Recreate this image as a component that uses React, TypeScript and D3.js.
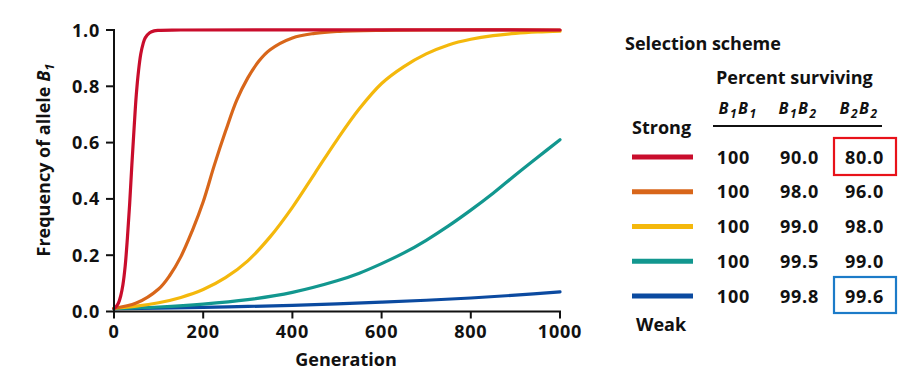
import React from "react";
import * as d3 from "d3";

// ---------- data ----------
const xTicks = [0, 200, 400, 600, 800, 1000];
const yTicks = [0, 0.2, 0.4, 0.6, 0.8, 1.0];

const redGen = [0, 5, 10, 15, 20, 25, 30, 35, 40, 45, 50, 55, 60, 65, 70, 80, 90, 100, 150, 1000];
const redFreq = [0.01, 0.018, 0.03, 0.055, 0.095, 0.16, 0.26, 0.38, 0.52, 0.65, 0.77, 0.855, 0.915, 0.95, 0.972, 0.99, 0.997, 0.999, 1, 1];

const orangeGen = [0, 50, 100, 125, 150, 175, 200, 225, 250, 275, 300, 325, 350, 400, 450, 500, 600, 700, 1000];
const orangeFreq = [0.012, 0.03, 0.08, 0.128, 0.195, 0.285, 0.39, 0.52, 0.64, 0.75, 0.83, 0.89, 0.93, 0.972, 0.988, 0.995, 0.999, 1, 1];

const yellowGen = [0, 50, 100, 150, 200, 250, 300, 350, 400, 450, 500, 550, 600, 650, 700, 750, 800, 850, 900, 950, 1000];
const yellowFreq = [0.012, 0.019, 0.031, 0.05, 0.078, 0.12, 0.18, 0.265, 0.37, 0.49, 0.61, 0.72, 0.81, 0.87, 0.915, 0.947, 0.967, 0.98, 0.988, 0.993, 0.996];

const tealGen = [0, 100, 200, 300, 400, 500, 550, 600, 650, 700, 750, 800, 850, 900, 950, 1000];
const tealFreq = [0.01, 0.016, 0.026, 0.042, 0.068, 0.109, 0.136, 0.17, 0.208, 0.253, 0.304, 0.36, 0.42, 0.485, 0.548, 0.61];

const blueGen = [0, 100, 200, 300, 400, 500, 600, 700, 800, 900, 1000];
const blueFreq = [0.01, 0.012, 0.015, 0.018, 0.022, 0.027, 0.033, 0.04, 0.048, 0.058, 0.07];

const seriesColors = ["#c90d2c", "#d8661a", "#f4b80c", "#12978f", "#0b4aa0"];
const survB1B1 = ["100", "100", "100", "100", "100"];
const survB1B2 = ["90.0", "98.0", "99.0", "99.5", "99.8"];
const survB2B2 = ["80.0", "96.0", "98.0", "99.0", "99.6"];

const FONT = "'Open Sans', 'Noto Sans', sans-serif";

export default function App() {
  const W = 918, H = 380;
  const x = d3.scaleLinear().domain([0, 1000]).range([114, 560]);
  const y = d3.scaleLinear().domain([0, 1]).range([311.5, 30]);
  const line = d3
    .line<[number, number]>()
    .x((d) => x(d[0]))
    .y((d) => y(d[1]))
    .curve(d3.curveCatmullRom.alpha(0.5));

  const series = [
    { g: redGen, f: redFreq, c: seriesColors[0] },
    { g: orangeGen, f: orangeFreq, c: seriesColors[1] },
    { g: yellowGen, f: yellowFreq, c: seriesColors[2] },
    { g: tealGen, f: tealFreq, c: seriesColors[3] },
    { g: blueGen, f: blueFreq, c: seriesColors[4] },
  ];
  const drawOrder = [4, 3, 2, 1, 0];

  const rowY = d3.scaleLinear().domain([0, 4]).range([157, 296]);

  const geno = (a: string, b: string, cx: number) => (
    <text x={cx} y={114} textAnchor="middle" fontStyle="italic" fontWeight={700} fontSize={16} letterSpacing={1.5}>
      B<tspan fontSize={12} dy={4}>{a}</tspan>
      <tspan dy={-4}>B</tspan>
      <tspan fontSize={12} dy={4}>{b}</tspan>
    </text>
  );

  return (
    <svg
      width={W}
      height={H}
      style={{ position: "absolute", left: 0, top: 0, background: "#fff" }}
      fontFamily={FONT}
    >
      <rect width={W} height={H} fill="#fff" />
      {/* curves */}
      {drawOrder.map((i) => {
        const s = series[i];
        const pts = s.g.map((g, k) => [g, s.f[k]] as [number, number]);
        return (
          <path key={i} d={line(pts) || ""} fill="none" stroke={s.c} strokeWidth={3.2} strokeLinecap="round" />
        );
      })}
      {/* axes */}
      <line x1={114} x2={114} y1={29} y2={312.5} stroke="#111" strokeWidth={2} />
      <line x1={113} x2={561} y1={311.5} y2={311.5} stroke="#111" strokeWidth={2} />
      {yTicks.map((t) => (
        <g key={"y" + t}>
          <line x1={106} x2={114} y1={y(t)} y2={y(t)} stroke="#111" strokeWidth={2} />
          <text x={100} y={y(t) + 6.5} textAnchor="end" fontWeight={700} fontSize={18} letterSpacing={0.8} fill="#111">
            {t.toFixed(1)}
          </text>
        </g>
      ))}
      {xTicks.map((t) => (
        <g key={"x" + t}>
          <line x1={x(t)} x2={x(t)} y1={311.5} y2={318.5} stroke="#111" strokeWidth={2} />
          <text x={x(t)} y={338} textAnchor="middle" fontWeight={700} fontSize={18} letterSpacing={0.8} fill="#111">
            {t}
          </text>
        </g>
      ))}
      <text x={346} y={366} textAnchor="middle" fontWeight={700} fontSize={18} fill="#111">
        Generation
      </text>
      <text
        transform="translate(50,160) rotate(-90)"
        textAnchor="middle"
        fontWeight={700}
        fontSize={18}
        fill="#111"
      >
        Frequency of allele <tspan fontStyle="italic">B</tspan>
        <tspan fontStyle="italic" fontSize={13} dy={4}>1</tspan>
      </text>

      {/* legend table */}
      <g fill="#111">
        <text x={625} y={50} fontWeight={700} fontSize={18}>Selection scheme</text>
        <text x={716} y={84} fontWeight={700} fontSize={18}>Percent surviving</text>
        {geno("1", "1", 738)}
        {geno("1", "2", 798)}
        {geno("2", "2", 859)}
        <line x1={713} x2={882} y1={126} y2={126} stroke="#111" strokeWidth={2} />
        <text x={632} y={134} fontWeight={700} fontSize={18}>Strong</text>
        <text x={636} y={331} fontWeight={700} fontSize={18}>Weak</text>
        {seriesColors.map((c, i) => (
          <g key={"row" + i}>
            <line x1={632} x2={693} y1={rowY(i)} y2={rowY(i)} stroke={c} strokeWidth={5} />
            <text x={733.5} y={rowY(i) + 6.5} textAnchor="middle" fontWeight={700} fontSize={18} letterSpacing={0.8}>{survB1B1[i]}</text>
            <text x={799.5} y={rowY(i) + 6.5} textAnchor="middle" fontWeight={700} fontSize={18} letterSpacing={0.8}>{survB1B2[i]}</text>
            <text x={864.5} y={rowY(i) + 6.5} textAnchor="middle" fontWeight={700} fontSize={18} letterSpacing={0.8}>{survB2B2[i]}</text>
          </g>
        ))}
        <rect x={834} y={138} width={62} height={37} fill="none" stroke="#e8121a" strokeWidth={2.2} />
        <rect x={834} y={277} width={62} height={36} fill="none" stroke="#1c7bc8" strokeWidth={2.2} />
      </g>
    </svg>
  );
}
